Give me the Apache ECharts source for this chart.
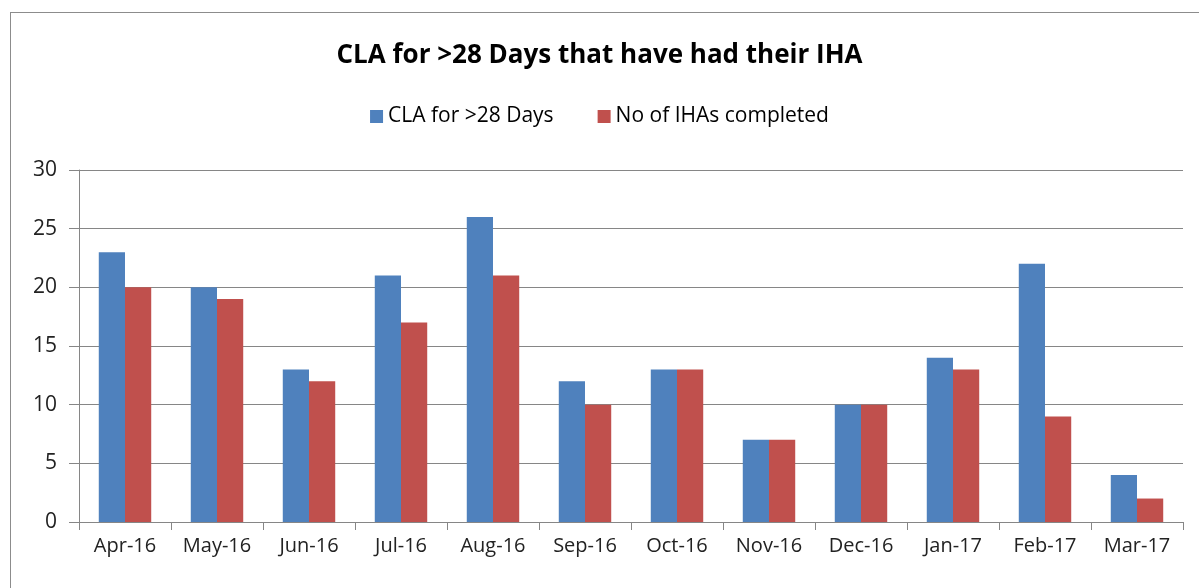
<!DOCTYPE html>
<html>
<head>
<meta charset="utf-8">
<script src="https://cdn.jsdelivr.net/npm/echarts@6/dist/echarts.min.js"></script>
<style>
  html, body { margin: 0; padding: 0; background: #fff; }
  #frame { position: absolute; left: 10px; top: 12px; width: 1200px; height: 600px; border: 1px solid #8c8c8c; box-sizing: border-box; }
  #chart { position: absolute; left: 0; top: 0; width: 1199px; height: 588px; }
</style>
</head>
<body>
<div id="frame"></div>
<div id="chart"></div>
<script>
// months on the x axis
const months = ['Apr-16', 'May-16', 'Jun-16', 'Jul-16', 'Aug-16', 'Sep-16',
  'Oct-16', 'Nov-16', 'Dec-16', 'Jan-17', 'Feb-17', 'Mar-17'];
// CLA for >28 Days
const claOver28 = [23, 20, 13, 21, 26, 12, 13, 7, 10, 14, 22, 4];
// No of IHAs completed
const ihaCompleted = [20, 19, 12, 17, 21, 10, 13, 7, 10, 13, 9, 2];

const font = 'Open Sans';
const chart = echarts.init(document.getElementById('chart'));

chart.setOption({
  color: ['#4F81BD', '#C0504D'],
  title: {
    text: 'CLA for >28 Days that have had their IHA',
    left: 'center',
    top: 38,
    textStyle: { fontFamily: font, fontSize: 26, fontWeight: 'bold', color: '#000' }
  },
  legend: {
    top: 101,
    left: 'center',
    itemWidth: 13,
    itemHeight: 13,
    itemGap: 44,
    icon: 'rect',
    textStyle: { fontFamily: font, fontSize: 21, color: '#000' },
    data: ['CLA for >28 Days', 'No of IHAs completed']
  },
  grid: { left: 79, right: 16, top: 170, bottom: 66 },
  xAxis: {
    type: 'category',
    data: months,
    axisLine: { lineStyle: { color: '#868686' } },
    axisTick: { show: true, length: 8, lineStyle: { color: '#868686' } },
    axisLabel: { fontFamily: font, fontSize: 20, color: '#222', margin: 14 }
  },
  yAxis: {
    type: 'value',
    min: 0,
    max: 30,
    interval: 5,
    axisLine: { show: true, lineStyle: { color: '#868686' } },
    axisTick: { show: true, length: 10, lineStyle: { color: '#868686' } },
    axisLabel: { fontFamily: font, fontSize: 21, color: '#222', margin: 22 },
    splitLine: { lineStyle: { color: '#868686' } }
  },
  series: [
    { name: 'CLA for >28 Days', type: 'bar', data: claOver28, barGap: '0%', barCategoryGap: '43%' },
    { name: 'No of IHAs completed', type: 'bar', data: ihaCompleted }
  ]
});
</script>
</body>
</html>
